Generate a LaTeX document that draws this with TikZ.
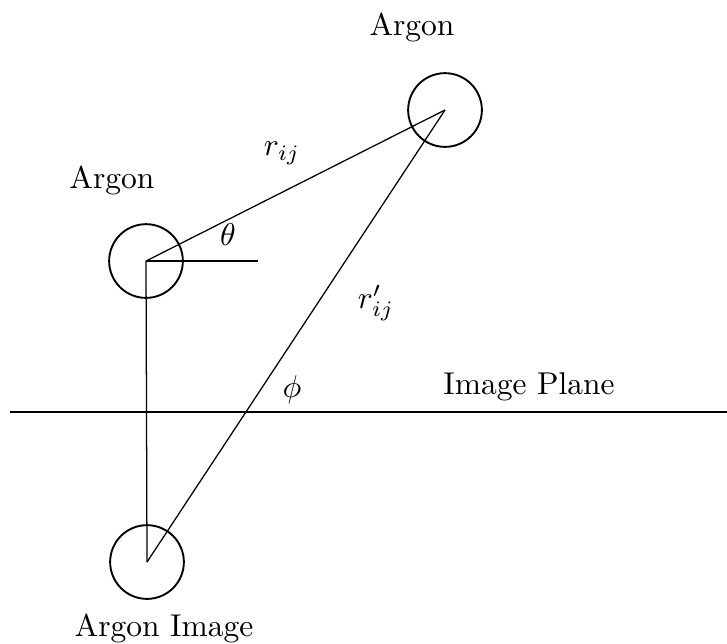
\documentclass[tikz,border=0pt]{standalone}
\usetikzlibrary{positioning}
\tikzset{
  atom/.style={circle, draw, semithick, minimum size=23.4pt, inner sep=0pt},
  bond/.style={thin},
  lbl/.style={inner sep=0pt, font=\normalsize},
}
\begin{document}
\begin{tikzpicture}[x=0.01116cm, y=-0.01116cm]
        \useasboundingbox (0,0) rectangle (727,643);
        % atoms
        \node[atom] (argonA)   at (445,110) {};
        \node[atom] (argonB)   at (146,261) {};
        \node[atom] (argonImg) at (147,562) {};
        \coordinate (thetaEnd) at (258,261);
        \coordinate (planeL) at (10,412);
        \coordinate (planeR) at (727,412);
        % bonds
        \draw[bond] (argonB.center) -- (argonA.center);
        \draw[bond] (argonImg.center) -- (argonA.center);
        \draw[bond] (argonB.center) -- (argonImg.center);
        \draw[bond] (argonB.center) -- (thetaEnd);
        \draw[semithick] (planeL) -- (planeR);
        % labels
        \node[lbl] (tArgonA)   at (412,27)  {Argon};
        \node[lbl] (tArgonB)   at (112,180) {Argon};
        \node[lbl] (tArgonImg) at (164,628) {Argon Image};
        \node[lbl] (tPlane)    at (529,387) {Image Plane};
        \node[lbl] (tRij)      at (282,153) {$r_{ij}$};
        \node[lbl] (tRpij)     at (376,303) {$r'_{ij}$};
        \node[lbl] (tTheta)    at (228,235) {$\theta$};
        \node[lbl] (tPhi)      at (292,390) {$\phi$};
\end{tikzpicture}
\end{document}
